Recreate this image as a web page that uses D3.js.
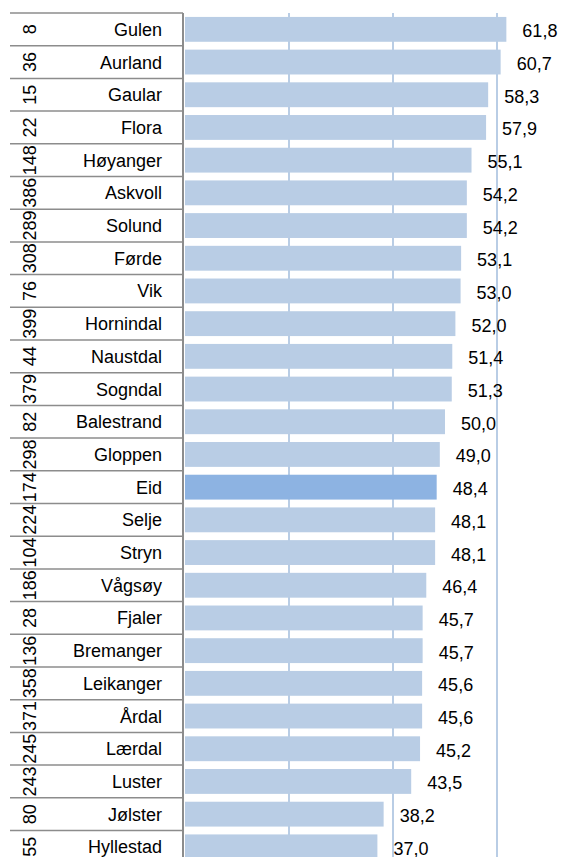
<!DOCTYPE html>
<html>
<head>
<meta charset="utf-8">
<script src="https://cdn.jsdelivr.net/npm/d3@7"></script>
<style>
  body { margin: 0; background: #fff; }
  svg text { font-family: "Liberation Sans", Arial, sans-serif; font-size: 18px; fill: #000; }
</style>
</head>
<body>
<div id="chart"></div>
<script>
// data
var names = ["Gulen", "Aurland", "Gaular", "Flora", "Høyanger", "Askvoll", "Solund", "Førde", "Vik",
  "Hornindal", "Naustdal", "Sogndal", "Balestrand", "Gloppen", "Eid", "Selje", "Stryn", "Vågsøy",
  "Fjaler", "Bremanger", "Leikanger", "Årdal", "Lærdal", "Luster", "Jølster", "Hyllestad"];
var ranks = [8, 36, 15, 22, 148, 386, 289, 308, 76, 399, 44, 379, 82, 298, 174, 224, 104, 186,
  28, 136, 358, 371, 245, 243, 80, 55];
var values = [61.8, 60.7, 58.3, 57.9, 55.1, 54.2, 54.2, 53.1, 53.0, 52.0, 51.4, 51.3, 50.0, 49.0,
  48.4, 48.1, 48.1, 46.4, 45.7, 45.7, 45.6, 45.6, 45.2, 43.5, 38.2, 37.0];
var gridTicks = [20, 40, 60];
var highlight = "Eid";

var width = 562, height = 857;
var topY = 13, rowH = 32.7;

var data = names.map(function (n, i) {
  return { name: n, rank: ranks[i], value: values[i] };
});

var svg = d3.select("#chart").append("svg")
  .attr("width", width)
  .attr("height", height);

var x = d3.scaleLinear()
  .domain([0, 60])
  .range([185, 497]);

var y = d3.scaleBand()
  .domain(names)
  .range([topY, topY + rowH * names.length])
  .paddingInner(0.24)
  .paddingOuter(0.12);

var fmt = function (v) { return d3.format(".1f")(v).replace(".", ","); };

// gridlines
svg.selectAll(".grid")
  .data(gridTicks)
  .enter()
  .append("line")
  .attr("class", "grid")
  .attr("x1", function (d) { return x(d); })
  .attr("x2", function (d) { return x(d); })
  .attr("y1", topY)
  .attr("y2", height)
  .attr("stroke", "#B9CDE5")
  .attr("stroke-width", 2);

// bars
svg.selectAll(".bar")
  .data(data)
  .enter()
  .append("rect")
  .attr("class", "bar")
  .attr("x", x(0))
  .attr("y", function (d) { return y(d.name); })
  .attr("width", function (d) { return x(d.value) - x(0); })
  .attr("height", y.bandwidth())
  .attr("fill", function (d) { return d.name == highlight ? "#8DB3E2" : "#B9CDE5"; });

// value labels
svg.selectAll(".val")
  .data(data)
  .enter()
  .append("text")
  .attr("class", "val")
  .attr("x", function (d) { return x(d.value) + 16; })
  .attr("y", function (d) { return y(d.name) + y.bandwidth() / 2 + 8; })
  .text(function (d) { return fmt(d.value); });

// table row lines on the left
var rowLines = d3.range(names.length + 1);
svg.selectAll(".rowline")
  .data(rowLines)
  .enter()
  .append("line")
  .attr("class", "rowline")
  .attr("x1", 10)
  .attr("x2", 183)
  .attr("y1", function (i) { return topY + i * rowH; })
  .attr("y2", function (i) { return topY + i * rowH; })
  .attr("stroke", "#8C8C8C")
  .attr("stroke-width", 1.5);

// axis line
svg.append("line")
  .attr("x1", 183).attr("x2", 183)
  .attr("y1", topY).attr("y2", height)
  .attr("stroke", "#8C8C8C")
  .attr("stroke-width", 2);

// category names
svg.selectAll(".name")
  .data(data)
  .enter()
  .append("text")
  .attr("class", "name")
  .attr("text-anchor", "end")
  .attr("x", 162)
  .attr("y", function (d) { return y(d.name) + y.bandwidth() / 2 + 6.5; })
  .text(function (d) { return d.name; });

// rank numbers, rotated
svg.selectAll(".rank")
  .data(data)
  .enter()
  .append("text")
  .attr("class", "rank")
  .attr("text-anchor", "middle")
  .attr("transform", function (d) {
    return "translate(35.5," + (y(d.name) + y.bandwidth() / 2) + ") rotate(-90)";
  })
  .text(function (d) { return d.rank; });
</script>
</body>
</html>
